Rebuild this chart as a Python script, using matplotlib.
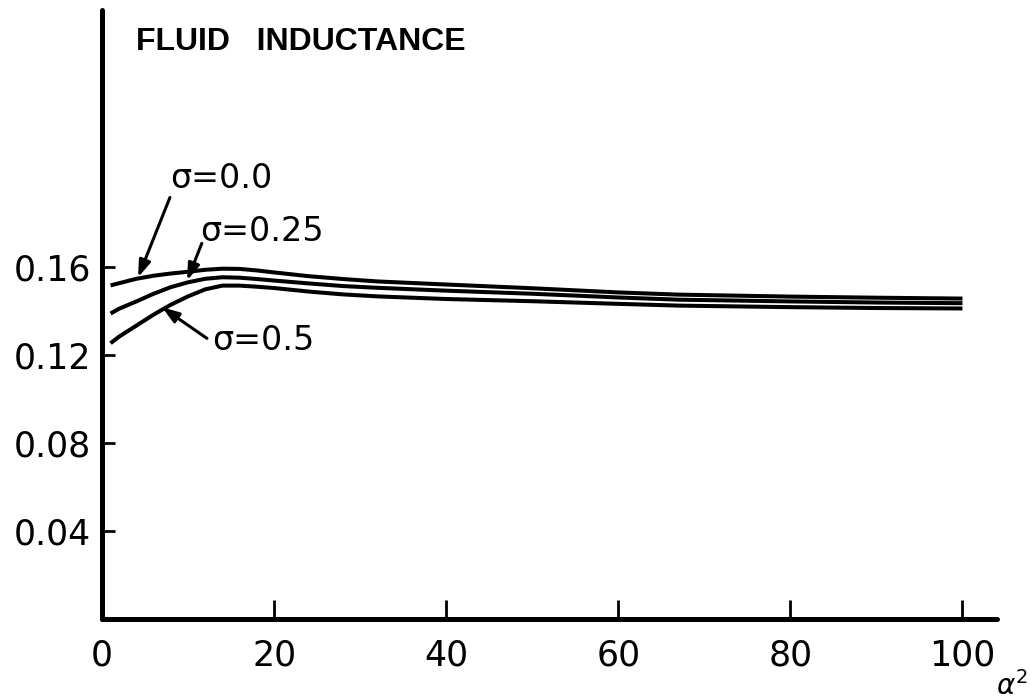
import matplotlib
matplotlib.use("Agg")
import matplotlib.pyplot as plt

x = [1, 2, 4, 6, 8, 10, 12, 14, 16, 18, 20, 24, 28, 32, 40, 50, 60, 67, 80, 90, 100]
sigma_00 = [0.1518, 0.1528, 0.1548, 0.1562, 0.1572, 0.1580, 0.1589, 0.1594, 0.1593, 0.1586, 0.1577,
            0.1560, 0.1547, 0.1536, 0.1522, 0.1505, 0.1486, 0.1476, 0.1467, 0.1462, 0.1458]
sigma_25 = [0.1390, 0.1412, 0.1445, 0.1480, 0.1510, 0.1532, 0.1548, 0.1555, 0.1553, 0.1547, 0.1540,
            0.1527, 0.1515, 0.1507, 0.1494, 0.1480, 0.1463, 0.1453, 0.1445, 0.1440, 0.1437]
sigma_50 = [0.1255, 0.1285, 0.1335, 0.1385, 0.1430, 0.1468, 0.1500, 0.1517, 0.1517, 0.1512, 0.1506,
            0.1490, 0.1477, 0.1468, 0.1456, 0.1446, 0.1434, 0.1426, 0.1419, 0.1415, 0.1413]

xticks = [0, 20, 40, 60, 80, 100]
yticks = [0.04, 0.08, 0.12, 0.16]
ytick_labels = ["0.04", "0.08", "0.12", "0.16"]
title = "FLUID   INDUCTANCE"
labels = ["σ=0.0", "σ=0.25", "σ=0.5"]

fig = plt.figure(figsize=(10.31, 6.99), dpi=100)
ax = fig.add_axes([0.0989, 0.1144, 0.868, 0.871])
for ys in (sigma_00, sigma_25, sigma_50):
    ax.plot(x, ys, color="black", lw=2.9, solid_capstyle="butt", solid_joinstyle="round")

ax.set_xlim(0, 104)
ax.set_ylim(0, 0.277)
for s in ("top", "right"):
    ax.spines[s].set_visible(False)
for s in ("left", "bottom"):
    ax.spines[s].set_linewidth(3.6)
    ax.spines[s].set_capstyle("round")

ax.set_xticks(xticks)
ax.set_xticklabels([str(t) for t in xticks])
ax.set_yticks(yticks)
ax.set_yticklabels(ytick_labels)
ax.tick_params(axis="x", direction="in", length=14, width=2, pad=14, labelsize=25)
ax.tick_params(axis="y", direction="in", length=9, width=2, pad=8, labelsize=25)

ax.text(4.0, 0.2627, title, fontsize=23, fontweight="bold", family="Liberation Sans",
        va="center", ha="left")

arrow = dict(arrowstyle="-|>,head_length=1.0,head_width=0.35", color="black", lw=2.2,
             shrinkA=0, shrinkB=0)
# sigma = 0.0
ax.annotate("", xy=(4.2, 0.1555), xytext=(7.9, 0.1918), arrowprops=arrow)
ax.text(7.9, 0.2005, labels[0], fontsize=24, va="center", ha="left")
# sigma = 0.25
ax.annotate("", xy=(9.9, 0.1541), xytext=(11.6, 0.1709), arrowprops=arrow)
ax.text(11.4, 0.1765, labels[1], fontsize=24, va="center", ha="left")
# sigma = 0.5
ax.annotate("", xy=(7.0, 0.1418), xytext=(12.2, 0.1277), arrowprops=arrow)
ax.text(12.8, 0.1265, labels[2], fontsize=24, va="center", ha="left")

fig.text(0.997, 0.019, r"$\alpha^2$", fontsize=20, ha="right", va="center")

fig.savefig("out.png", dpi=100)
